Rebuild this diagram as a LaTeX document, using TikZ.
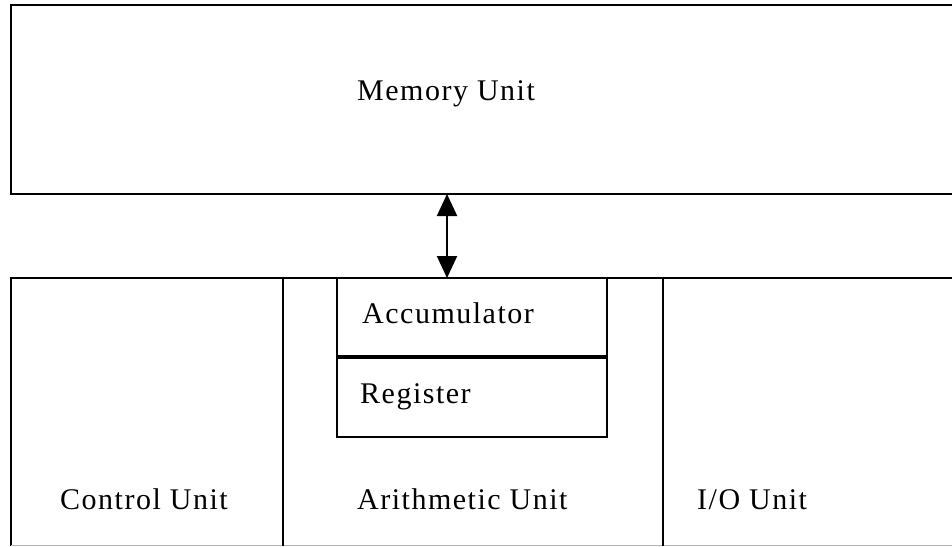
\documentclass[tikz,border=0pt]{standalone}
\usepackage{fontspec}
\setmainfont[LetterSpace=5]{Liberation Serif}
\usetikzlibrary{arrows.meta}
\begin{document}
\begin{tikzpicture}[x=1pt,y=-1pt,
  unitbox/.style={draw=black,line width=2pt,inner sep=0pt,outer sep=0pt},
  lbl/.style={font=\fontsize{30}{30}\selectfont,anchor=base west,inner sep=0pt},
  rule/.style={draw=black,line width=2pt}]
\useasboundingbox (0,0) rectangle (952,546);
% memory unit (runs off the right edge)
\node[unitbox,minimum width=960pt,minimum height=189pt,anchor=north west] (mem) at (11,5) {};
\node[lbl] (memlbl) at (357,100) {Memory Unit};
% lower frame holding the three units
\draw[rule] (960,278) -- (11,278) -- (11,546);
\draw[gray!60,line width=1pt] (11,545) -- (952,545);
\draw[rule] (283,278) -- (283,546);
\draw[rule] (663,278) -- (663,546);
% accumulator and register inside the arithmetic unit
\node[unitbox,minimum width=270pt,minimum height=79pt,anchor=north west] (acc) at (337,278) {};
\node[unitbox,minimum width=270pt,minimum height=80pt,anchor=north west] (reg) at (337,357) {};
\draw[line width=4pt] (acc.south west) -- (acc.south east);
\node[lbl] at (362,323) {Accumulator};
\node[lbl] at (360,403) {Register};
% unit labels
\node[lbl] at (60,509) {Control Unit};
\node[lbl] at (357,509) {Arithmetic Unit};
\node[lbl] at (697,509) {I/O Unit};
% data path between memory and arithmetic unit
\coordinate (top) at (447,194);
\coordinate (bot) at (447,278);
\draw[line width=2pt,{Triangle[width=20pt,length=22pt]}-{Triangle[width=20pt,length=22pt]}] (top) -- (bot);
\end{tikzpicture}
\end{document}
